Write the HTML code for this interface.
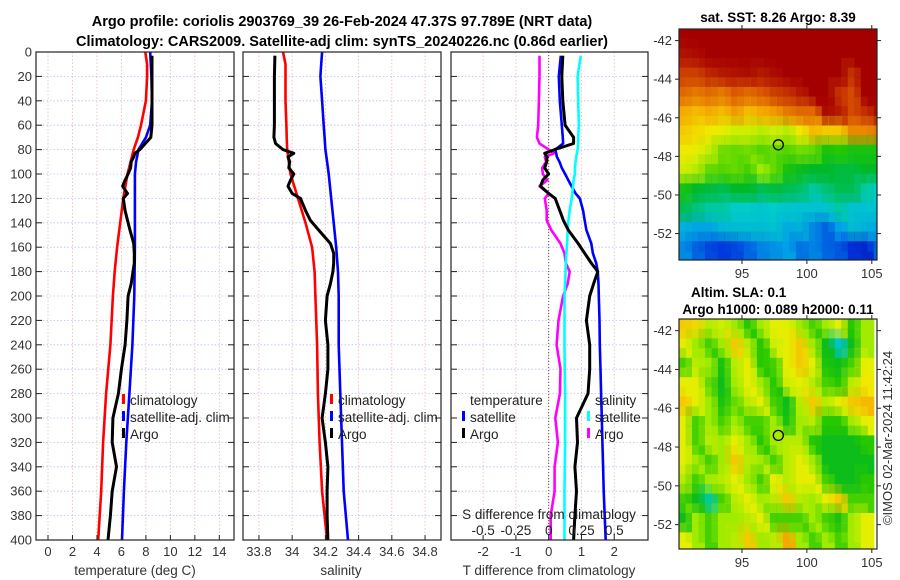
<!DOCTYPE html>
<html><head><meta charset="utf-8">
<style>
html,body{margin:0;padding:0;background:#fff;}
svg{display:block;font-family:"Liberation Sans","DejaVu Sans",sans-serif;}
</style></head>
<body>
<svg id="c" width="900" height="580" viewBox="0 0 900 580" xmlns="http://www.w3.org/2000/svg">
<text x="342" y="26" text-anchor="middle" font-size="14.5" font-weight="bold" fill="#000">Argo profile: coriolis 2903769_39 26-Feb-2024 47.37S 97.789E (NRT data)</text>
<text x="342" y="46" text-anchor="middle" font-size="14.5" font-weight="bold" fill="#000">Climatology: CARS2009. Satellite-adj clim: synTS_20240226.nc (0.86d earlier)</text>
<text x="778" y="22" text-anchor="middle" font-size="13.5" font-weight="bold">sat. SST: 8.26 Argo: 8.39</text>
<text x="691" y="297" font-size="13.5" font-weight="bold">Altim. SLA: 0.1</text>
<text x="778" y="314" text-anchor="middle" font-size="13.5" font-weight="bold">Argo h1000: 0.089 h2000: 0.11</text>
<text transform="translate(892,438) rotate(-90)" text-anchor="middle" font-size="13" fill="#333">©IMOS 02-Mar-2024 11:42:24</text>
<g id="g"></g>
</svg>
<script>
// ---- data ----
const depthTick=[0,20,40,60,80,100,120,140,160,180,200,220,240,260,280,300,320,340,360,380,400];
const tTicks=[0,2,4,6,8,10,12,14];
const sTicks=[33.8,34,34.2,34.4,34.6,34.8];
const sTickLabels=["33.8","34","34.2","34.4","34.6","34.8"];
const dTTicks=[-2,-1,0,1,2];
const dSTicks=[-0.5,-0.25,0,0.25,0.5];
const dSTickLabels=["-0.5","-0.25","0","0.25","0.5"];
const climDepth=[0,10,20,40,60,70,80,90,100,120,140,160,180,200,240,280,320,360,400];
const tempClim=[7.95,8.1,8.1,8.0,7.6,7.35,7.0,6.75,6.5,6.15,5.9,5.65,5.45,5.3,5.1,4.75,4.5,4.35,4.1];
const tempSat=[8.35,8.4,8.45,8.5,8.35,8.0,7.4,7.2,7.1,7.1,7.1,7.1,7.08,7.05,6.9,6.65,6.4,6.2,6.05];
const salClim=[33.945,33.96,33.96,33.96,33.965,33.967,33.97,33.98,33.99,34.035,34.08,34.12,34.135,34.14,34.15,34.155,34.165,34.18,34.21];
const salSat=[34.18,34.175,34.17,34.18,34.19,34.195,34.2,34.21,34.22,34.235,34.25,34.265,34.276,34.28,34.28,34.29,34.3,34.31,34.336];
const argoDepth=[3,20,40,60,70,75,80,83,86,90,95,100,105,110,116,120,130,138,146,157,165,173,180,190,200,220,240,260,280,300,320,340,360,380,400];
const tempArgo=[8.5,8.5,8.5,8.5,8.4,7.95,7.5,7.1,7.0,6.8,6.75,6.55,6.3,6.1,6.5,6.15,6.3,6.5,6.7,7.0,7.05,7.05,6.95,6.8,6.55,6.45,6.3,6.0,5.75,5.3,5.25,5.6,5.25,5.1,4.9];
const salArgo=[33.896,33.893,33.893,33.893,33.89,33.9,33.945,34.01,33.975,33.985,33.98,34.01,33.99,33.975,34.0,34.05,34.08,34.11,34.16,34.23,34.25,34.25,34.245,34.23,34.21,34.2,34.215,34.215,34.2,34.18,34.2,34.215,34.21,34.21,34.215];
const dTArgo=[0.43,0.4,0.43,0.5,0.76,0.76,0.18,-0.12,-0.05,-0.06,-0.12,0.0,-0.18,-0.25,0.0,0.2,0.34,0.45,0.6,0.9,1.1,1.3,1.5,1.37,1.25,1.15,1.25,1.25,1.2,0.85,0.88,0.8,0.85,0.8,0.76];
const dTSat=[0.37,0.31,0.34,0.4,0.43,0.44,0.2,0.23,0.25,0.33,0.4,0.5,0.6,0.7,0.82,0.95,1.05,1.1,1.15,1.3,1.35,1.45,1.5,1.52,1.53,1.55,1.56,1.58,1.6,1.62,1.64,1.66,1.68,1.71,1.74];
const dSSat=[0.245,0.22,0.225,0.23,0.225,0.225,0.22,0.215,0.21,0.205,0.2,0.2,0.19,0.185,0.18,0.175,0.16,0.15,0.145,0.14,0.135,0.13,0.128,0.125,0.12,0.12,0.12,0.122,0.125,0.125,0.125,0.123,0.12,0.12,0.12];
const dSArgo=[-0.07,-0.07,-0.075,-0.08,-0.09,-0.07,0.0,0.04,-0.03,-0.02,-0.05,-0.045,-0.01,-0.07,0.0,-0.03,-0.015,-0.015,0.02,0.09,0.12,0.13,0.16,0.145,0.11,0.075,0.06,0.09,0.085,0.05,0.07,0.045,0.045,0.015,0.015];
const lonTicks=[95,100,105];
const latTicks=[-42,-44,-46,-48,-50,-52];
// map values (0..1 colour index), rows north->south (1 deg), cols west->east (1 deg)
const sstGrid=[
[1,1,1,1,1,1,1,1,1,1,1,1,1,1,1,1],
[.97,.98,1,1,1,1,1,1,1,1,1,1,1,1,1,1],
[.9,.9,.94,.96,.97,.98,.96,.98,1,1,1,1,1,.92,1,1],
[.84,.82,.84,.82,.86,.84,.86,.9,.92,.96,1,1,.92,.88,1,1],
[.76,.74,.76,.74,.78,.74,.76,.78,.82,.84,.84,.98,.96,.88,.92,.98],
[.72,.7,.68,.66,.64,.64,.62,.64,.62,.68,.74,.72,.72,.8,.8,.82],
[.68,.66,.63,.57,.56,.57,.55,.56,.55,.57,.56,.5,.52,.5,.5,.5],
[.64,.62,.56,.55,.56,.54,.6,.56,.5,.48,.46,.46,.45,.45,.46,.46],
[.5,.46,.45,.44,.46,.46,.44,.45,.44,.43,.4,.42,.44,.44,.4,.38],
[.44,.42,.4,.4,.38,.38,.37,.38,.37,.36,.36,.36,.4,.36,.36,.36],
[.33,.31,.31,.34,.35,.35,.35,.36,.32,.33,.27,.22,.3,.35,.33,.31],
[.27,.22,.18,.16,.18,.22,.26,.28,.3,.24,.26,.22,.2,.14,.12,.22]];
const slaGrid=[
[.72,.7,.62,.64,.6,.52,.6,.66,.66,.6,.54,.6,.66,.52,.6],
[.66,.6,.54,.6,.72,.62,.52,.64,.66,.72,.6,.48,.36,.48,.6],
[.54,.62,.6,.5,.62,.66,.52,.54,.66,.72,.66,.5,.48,.54,.66],
[.66,.66,.56,.48,.6,.66,.6,.52,.64,.66,.62,.54,.52,.62,.68],
[.72,.66,.6,.5,.56,.62,.66,.54,.48,.62,.72,.62,.66,.72,.74],
[.66,.54,.6,.54,.6,.54,.54,.6,.5,.6,.62,.52,.52,.6,.66],
[.66,.54,.62,.6,.66,.6,.52,.6,.62,.62,.52,.48,.48,.48,.52],
[.66,.6,.54,.6,.72,.62,.6,.54,.62,.66,.6,.48,.48,.48,.48],
[.62,.54,.6,.62,.66,.6,.54,.66,.62,.66,.66,.54,.48,.48,.52],
[.54,.48,.4,.54,.62,.66,.6,.62,.72,.62,.6,.66,.72,.54,.54],
[.48,.6,.54,.6,.6,.62,.66,.54,.54,.54,.6,.54,.5,.6,.66],
[.66,.6,.54,.6,.62,.72,.6,.62,.76,.6,.54,.6,.54,.6,.66]];
const argoLon=97.8, argoLat=-47.4;

// ---- helpers ----
const NS="http://www.w3.org/2000/svg";
const G=document.getElementById('g');
function mk(tag,attrs,parent){const e=document.createElementNS(NS,tag);for(const k in attrs)e.setAttribute(k,attrs[k]);(parent||G).appendChild(e);return e;}
const Y0=52,Y1=540;
const yD=d=>Y0+(Y1-Y0)*d/400;
function scale(d0,d1,r0,r1){return v=>r0+(v-d0)*(r1-r0)/(d1-d0);}
const P=[{x0:36,x1:234},{x0:243,x1:441},{x0:451,x1:648}];
const xT=scale(-0.98,15.2,36,234);
const xS=scale(33.704,34.896,243,441);
const xDT=scale(-2.98,3.03,451,648);
const xDS=scale(-0.745,0.757,451,648);

function grid(p,xs,vals,name){
  const gg=mk('g',{});
  
  
  vals.forEach(v=>{const x=xs(v);mk('line',{x1:x,x2:x,y1:Y0,y2:Y1,stroke:'#e8b8b0','stroke-width':0.8,'stroke-dasharray':'1.5,2'},gg);});
  depthTick.forEach(d=>{const y=yD(d);mk('line',{x1:p.x0,x2:p.x1,y1:y,y2:y,stroke:'#b8c0ee','stroke-width':0.8,'stroke-dasharray':'1.5,2'},gg);});
}
function frame(p,xs,vals,labels,name,leftLabels,labY){
  const gg=mk('g',{});
  
  
  mk('rect',{x:p.x0,y:Y0,width:p.x1-p.x0,height:Y1-Y0,fill:'none',stroke:'#222','stroke-width':1.2},gg);
  depthTick.forEach(d=>{const y=yD(d);
    mk('line',{x1:p.x0,x2:p.x0+6,y1:y,y2:y,stroke:'#222'},gg);
    mk('line',{x1:p.x1-6,x2:p.x1,y1:y,y2:y,stroke:'#222'},gg);
    if(leftLabels){const t=mk('text',{x:p.x0-4,y:y+4.5,'text-anchor':'end','font-size':13,fill:'#333'},gg);t.textContent=d;}
  });
  if(labY) vals.forEach((v,i)=>{const x=xs(v);
    mk('line',{x1:x,x2:x,y1:Y1,y2:Y1-5,stroke:'#222'},gg);
    const t=mk('text',{x:x,y:labY,'text-anchor':'middle','font-size':13,fill:'#333'},gg);t.textContent=labels[i];});
}
function line(xs,vals,depths,color,name,w){
  let d='';vals.forEach((v,i)=>{d+=(i?'L':'M')+xs(v).toFixed(1)+','+yD(depths[i]).toFixed(1);});
  const e=mk('path',{d:d,fill:'none',stroke:color,'stroke-width':w||2.6,'stroke-linejoin':'round'});
  
  
}
function txt(x,y,s,name,opt){const t=mk('text',Object.assign({x:x,y:y,'font-size':13.5,fill:'#222'},opt||{}));t.textContent=s;
  
  return t;}
function legMark(x,y,c){mk('rect',{x:x,y:y-11,width:3,height:10,fill:c});}

// panel 1
grid(P[0],xT,tTicks,'temperature-panel');
line(xT,tempClim,climDepth,'#ff0000','temp-climatology-line');
line(xT,tempSat,climDepth,'#0000ff','temp-satellite-line');
line(xT,tempArgo,argoDepth,'#000','temp-argo-line',3);
frame(P[0],xT,tTicks,tTicks.map(String),'temperature-panel',true,556);
txt(135,575,'temperature (deg C)','temperature-x-title',{'text-anchor':'middle','fill':'#333'});
// panel 2
grid(P[1],xS,sTicks,'salinity-panel');
line(xS,salClim,climDepth,'#ff0000','sal-climatology-line');
line(xS,salSat,climDepth,'#0000ff','sal-satellite-line');
line(xS,salArgo,argoDepth,'#000','sal-argo-line',3);
frame(P[1],xS,sTicks,sTickLabels,'salinity-panel',false,556);
txt(341,575,'salinity','salinity-x-title',{'text-anchor':'middle','fill':'#333'});
// panel 3
grid(P[2],xDT,dTTicks,'difference-panel');
mk('line',{x1:xDT(0),x2:xDT(0),y1:Y0,y2:Y1,stroke:'#555','stroke-width':1,'stroke-dasharray':'1,2'});
line(xDS,dSArgo,argoDepth,'#ff00ff','sal-argo-diff-line');
line(xDT,dTSat,argoDepth,'#0000ff','temp-satellite-diff-line');
line(xDS,dSSat,argoDepth,'#00ffff','sal-satellite-diff-line');
line(xDT,dTArgo,argoDepth,'#000','temp-argo-diff-line',3);
frame(P[2],xDT,dTTicks,dTTicks.map(String),'difference-panel',false,556);
txt(549,575,'T difference from climatology','t-diff-x-title',{'text-anchor':'middle','fill':'#333'});
txt(549,519,'S difference from climatology','s-diff-axis-title',{'text-anchor':'middle'});
dSTicks.forEach((v,i)=>{txt(xDS(v),535,dSTickLabels[i],'s-diff-tick',{'text-anchor':'middle'});});

// legends
[[122,130],[330,338]].forEach((L,k)=>{
  const nm=k?'salinity':'temperature';
  legMark(L[0],405,'#ff0000');txt(L[1],405,'climatology',nm+'-legend-climatology');
  legMark(L[0],422,'#0000ff');txt(L[1],422,'satellite-adj. clim',nm+'-legend-satellite');
  legMark(L[0],439,'#000');txt(L[1],439,'Argo',nm+'-legend-argo');
});
txt(470,405,'temperature','diff-legend-temperature-header');
legMark(462,422,'#0000ff');txt(470,422,'satellite','diff-legend-temp-satellite');
legMark(462,439,'#000');txt(470,439,'Argo','diff-legend-temp-argo');
txt(595,405,'salinity','diff-legend-salinity-header');
legMark(587,422,'#00ffff');txt(595,422,'satellite','diff-legend-sal-satellite');
legMark(587,439,'#ff00ff');txt(595,439,'Argo','diff-legend-sal-argo');

// ---- maps ----
function cmap(v){
  const st=[[0,[0,0,140]],[0.15,[0,50,220]],[0.3,[0,160,230]],[0.38,[0,205,200]],[0.46,[0,185,40]],[0.52,[40,200,0]],[0.6,[160,235,0]],[0.67,[240,240,0]],[0.76,[245,170,0]],[0.87,[215,80,0]],[1,[165,0,0]]];
  for(let i=1;i<st.length;i++){if(v<=st[i][0]){const a=st[i-1],b=st[i];const f=(v-a[0])/(b[0]-a[0]);
    return 'rgb('+a[1].map((c,j)=>Math.round(c+(b[1][j]-c)*f)).join(',')+')';}}
  return 'rgb(165,0,0)';
}
function drawMap(M,grid,name){
  const lonX=scale(90.15,105.4,M.x0,M.x1), latY=scale(M.latTop,M.latTop-(M.y1-M.y0)/M.ppd,M.y0,M.y1);
  const gg=mk('g',{});
  
  
  const cid='clip'+name;
  const cp=mk('clipPath',{id:cid},gg);mk('rect',{x:M.x0,y:M.y0,width:M.x1-M.x0,height:M.y1-M.y0},cp);
  const cells=mk('g',{'clip-path':'url(#'+cid+')'},gg);
  grid.forEach((row,r)=>row.forEach((v,c)=>{
    const x=lonX(90.15+c),y=latY(M.latTop-r);
    const e=mk('rect',{x:x,y:y,width:lonX(91.15+c)-x+0.6,height:latY(M.latTop-r-1)-y+0.6,fill:cmap(v)},cells);
    
    
  }));
  // soften block edges with offset half-transparent overlay of same cells
  grid.forEach((row,r)=>row.forEach((v,c)=>{
    const x=lonX(89.65+c),y=latY(M.latTop-r+0.5);
    const e=mk('rect',{x:x,y:y,width:lonX(90.65+c)-x+0.6,height:latY(M.latTop-r-0.5)-y+0.6,fill:cmap(v),opacity:0.35},cells);
    
    
  }));
  mk('rect',{x:M.x0,y:M.y0,width:M.x1-M.x0,height:M.y1-M.y0,fill:'none',stroke:'#222','stroke-width':1.2},gg);
  lonTicks.forEach(l=>{const x=lonX(l);
    mk('line',{x1:x,x2:x,y1:M.y1,y2:M.y1+4,stroke:'#222'},gg);mk('line',{x1:x,x2:x,y1:M.y0,y2:M.y0-4,stroke:'#222'},gg);
    const t=mk('text',{x:x,y:M.y1+18,'text-anchor':'middle','font-size':13,fill:'#333'},gg);t.textContent=l;});
  latTicks.forEach(l=>{const y=latY(l);
    mk('line',{x1:M.x0,x2:M.x0-4,y1:y,y2:y,stroke:'#222'},gg);mk('line',{x1:M.x1,x2:M.x1+4,y1:y,y2:y,stroke:'#222'},gg);
    const t=mk('text',{x:M.x0-7,y:y+4.5,'text-anchor':'end','font-size':13,fill:'#333'},gg);t.textContent=l;});
  const m=mk('circle',{cx:lonX(argoLon),cy:latY(argoLat),r:5,fill:'none',stroke:'#000','stroke-width':1.3},gg);
  
  
}
drawMap({x0:679,x1:877,y0:29,y1:260,latTop:-41.4,ppd:19.3},sstGrid,'sst-map');
drawMap({x0:679,x1:877,y0:319,y1:549,latTop:-41.4,ppd:19.4},slaGrid,'sla-map');
</script>
</body></html>
